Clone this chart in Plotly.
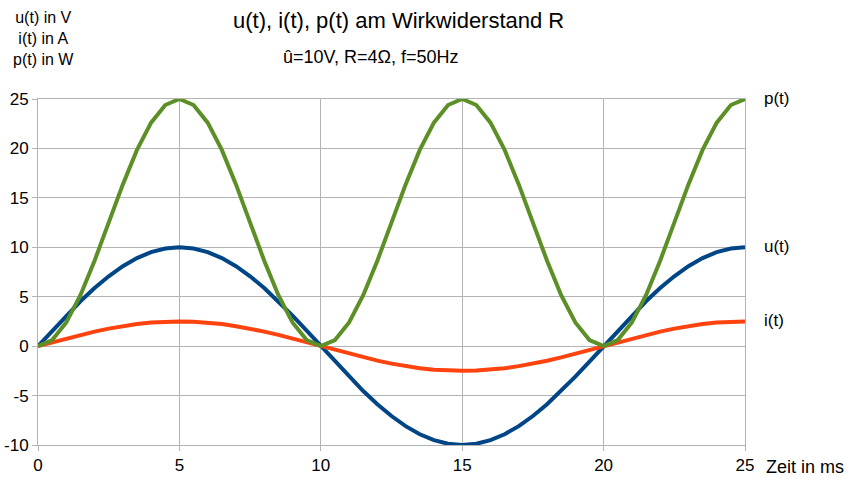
import plotly.graph_objects as go

# time axis in ms (0.5 ms steps)
t_ms = [k * 0.5 for k in range(51)]

# voltage u(t) in V
u_vals = [0, 1.56, 3.09, 4.54, 5.88, 7.07, 8.09, 8.91, 9.51, 9.88, 10,
          9.88, 9.51, 8.91, 8.09, 7.07, 5.88, 4.54, 3.09, 1.56, 0,
          -1.56, -3.09, -4.54, -5.88, -7.07, -8.09, -8.91, -9.51, -9.88, -10,
          -9.88, -9.51, -8.91, -8.09, -7.07, -5.88, -4.54, -3.09, -1.56, 0,
          1.56, 3.09, 4.54, 5.88, 7.07, 8.09, 8.91, 9.51, 9.88, 10]

# current i(t) in A
i_vals = [0, 0.39, 0.77, 1.14, 1.47, 1.77, 2.02, 2.23, 2.38, 2.47, 2.5,
          2.47, 2.38, 2.23, 2.02, 1.77, 1.47, 1.14, 0.77, 0.39, 0,
          -0.39, -0.77, -1.14, -1.47, -1.77, -2.02, -2.23, -2.38, -2.47, -2.5,
          -2.47, -2.38, -2.23, -2.02, -1.77, -1.47, -1.14, -0.77, -0.39, 0,
          0.39, 0.77, 1.14, 1.47, 1.77, 2.02, 2.23, 2.38, 2.47, 2.5]

# power p(t) in W
p_vals = [0, 0.61, 2.39, 5.15, 8.64, 12.5, 16.36, 19.85, 22.61, 24.39, 25,
          24.39, 22.61, 19.85, 16.36, 12.5, 8.64, 5.15, 2.39, 0.61, 0,
          0.61, 2.39, 5.15, 8.64, 12.5, 16.36, 19.85, 22.61, 24.39, 25,
          24.39, 22.61, 19.85, 16.36, 12.5, 8.64, 5.15, 2.39, 0.61, 0,
          0.61, 2.39, 5.15, 8.64, 12.5, 16.36, 19.85, 22.61, 24.39, 25]

series_names = ["u(t)", "i(t)", "p(t)"]
series_colors = ["#004586", "#ff420e", "#5c9027"]
series_values = [u_vals, i_vals, p_vals]

x_ticks = [0, 5, 10, 15, 20, 25]
y_ticks = [-10, -5, 0, 5, 10, 15, 20, 25]
y_ticktext = [str(v) for v in y_ticks]  # plain hyphen as minus sign

FONT = "Liberation Sans, Arial, sans-serif"
GRID = "#b3b3b3"
W, H = 853, 477
L, R, T, B = 38, 108, 99, 32
pw, ph = W - L - R, H - T - B


def px_x(x):
    return (x - L) / pw


def px_y(y):
    return (H - y - B) / ph


fig = go.Figure()
for name, color, vals in zip(series_names, series_colors, series_values):
    fig.add_trace(go.Scatter(x=t_ms, y=vals, mode="lines", name=name,
                             line=dict(color=color, width=4)))

annotations = []
# series names next to the last point of each curve
for name, vals in zip(series_names, series_values):
    annotations.append(dict(x=t_ms[-1], y=vals[-1], xref="x", yref="y",
                            text=name, showarrow=False, xanchor="left",
                            yanchor="middle", xshift=17, yshift=1,
                            font=dict(family=FONT, size=17, color="#000")))

# titles and axis captions placed in paper coordinates
texts = [
    ("u(t), i(t), p(t) am Wirkwiderstand R", 398, 21, 22, "center"),
    ("û=10V, R=4Ω, f=50Hz", 370, 57, 18, "center"),
    ("u(t) in V<br>i(t) in A<br>p(t) in W", 43, 38, 16, "center"),
    ("Zeit in ms", 764, 467, 18, "left"),
]
for txt, x, y, size, anchor in texts:
    annotations.append(dict(x=px_x(x), y=px_y(y), xref="paper", yref="paper",
                            text=txt, showarrow=False, xanchor=anchor,
                            yanchor="middle",
                            font=dict(family=FONT, size=size, color="#000")))

fig.update_layout(
    width=W, height=H,
    margin=dict(l=L, r=R, t=T, b=B, autoexpand=False),
    paper_bgcolor="white", plot_bgcolor="white",
    showlegend=False,
    font=dict(family=FONT, size=17, color="#000"),
    annotations=annotations,
)
axis_style = dict(showgrid=True, gridcolor=GRID, gridwidth=1, zeroline=False,
                  showline=True, linecolor=GRID, linewidth=1, mirror=True,
                  ticks="outside", ticklen=5, tickcolor=GRID, automargin=False,
                  tickfont=dict(family=FONT, size=17, color="#000"))
fig.update_xaxes(range=[0, 25], tickvals=x_ticks, **axis_style)
fig.update_yaxes(range=[-10, 25], tickvals=y_ticks, ticktext=y_ticktext, **axis_style)

fig.write_html("out.html")
